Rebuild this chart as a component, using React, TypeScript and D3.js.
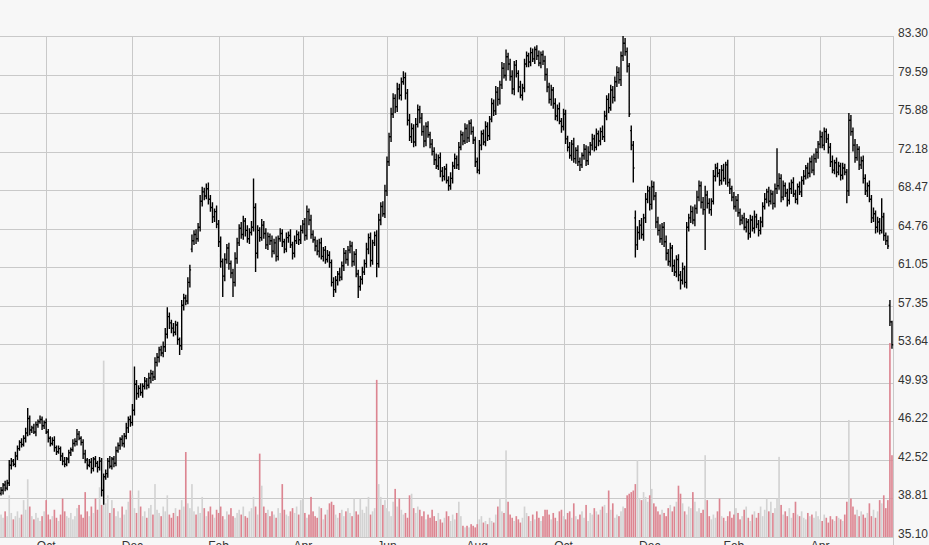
import { useMemo } from "react";
import * as d3 from "d3";

const W = 929;
const H = 545;
const plot = { left: 0, right: 893, top: 36, bottom: 537 };

// trading calendar
const firstDay = new Date(2014, 7, 29);
const holidays = [
  "2014-09-01", "2014-11-27", "2014-12-25", "2015-01-01", "2015-01-19", "2015-02-16",
  "2015-04-03", "2015-05-25", "2015-07-03", "2015-09-07", "2015-11-26", "2015-12-25",
  "2016-01-01", "2016-01-18", "2016-02-15", "2016-03-25",
];

// daily closes
const closes = [
  39.6, 40.1, 39.8, 40.3, 42.0, 42.4, 42.1, 42.9, 43.6, 44.2, 44.0, 44.6, 45.1,
  46.5, 45.4, 45.6, 45.2, 45.9, 46.2, 46.4, 45.8, 46.1,
  // Oct 2014
  45.2, 44.6, 44.1, 44.4, 43.7, 43.3, 43.6, 42.9, 42.4, 42.1, 42.6,
  43.2, 43.5, 44.1, 44.3, 45.0, 44.6, 44.2, 43.1,
  42.5, 42.0, 42.3, 41.7, 42.6, 42.2, 41.8, 42.4, 39.6, 40.9,
  41.2, 42.4, 41.9, 42.6, 42.2, 43.4, 43.9, 44.5, 44.1, 44.8,
  45.6, 46.4, 46.1, 47.3,
  // Dec 2014
  49.8, 48.9, 49.4, 49.0, 49.6, 50.1, 49.7, 50.4, 50.8, 50.5,
  51.9, 52.4, 53.1, 52.8, 53.4, 54.6, 56.3, 55.7, 55.2, 54.8, 55.5, 54.1, 53.5,
  57.4, 58.1, 57.8, 59.6, 60.8, 63.6, 64.2, 63.8, 64.9,
  67.4, 68.3, 67.9, 68.6, 67.6, 66.8, 65.9, 66.4, 65.2,
  63.5, 61.6, 60.2, 61.8, 62.9, 61.4, 60.5, 59.6, 61.9,
  63.4, 64.8, 64.2, 65.5, 64.6, 63.8, 64.4, 64.9, 66.8, 62.4,
  64.6, 63.9, 65.1, 64.3, 63.2, 64.0, 63.6,
  62.6, 63.4, 62.1, 63.8, 64.3, 63.5, 62.8, 63.9, 64.1, 63.2, 62.4, 63.6, 64.2, 63.7, 64.6,
  // Apr 2015
  65.2, 64.1, 66.4, 65.6,
  64.2, 63.7, 63.1, 62.6, 63.4, 62.1, 62.7, 61.8, 62.2, 61.5,
  59.6, 58.9, 59.8, 60.4, 60.1, 61.2, 62.4, 61.8, 62.7, 63.1, 61.6, 62.3,
  60.4, 59.2, 59.9, 60.6, 61.4, 62.8, 63.9, 61.7, 63.4, 64.1, 61.4,
  65.6, 66.9, 66.2, 68.4, 71.2, 73.6,
  // Jun 2015
  75.8, 77.3, 76.5, 78.2, 77.6, 78.9, 79.3, 77.8,
  75.2, 73.6, 74.4, 73.1, 74.8, 76.2, 75.4, 74.1, 73.2, 74.6, 73.8, 72.9,
  72.2, 71.4, 70.8, 71.6, 70.3, 69.8, 70.5, 69.4, 68.9,
  69.6, 70.8, 71.5, 70.9, 72.6, 73.8, 73.2, 74.4, 73.5, 74.9, 74.1, 73.3,
  71.2, 70.4, 72.8, 73.9, 73.1, 74.6, 73.7,
  75.3, 76.8, 76.1, 77.9, 77.2, 78.6, 80.2, 79.5, 81.3, 80.6,
  79.4, 78.2, 80.5, 79.7, 78.4, 77.6, 78.3,
  80.6, 81.4, 80.8, 81.7, 81.1, 82.0, 81.4, 80.7, 81.5, 80.9,
  79.6, 78.4, 77.2, 78.1, 76.8, 75.6, 76.3, 75.1, 74.6, 75.8,
  // Oct 2015
  73.4, 72.6, 71.8, 72.9, 71.5, 72.3, 71.2, 70.9, 71.8, 72.4, 71.3, 72.1,
  72.8, 73.4, 72.6, 73.9, 73.2, 74.1, 73.6,
  75.6, 77.2, 76.4, 78.1, 77.4, 78.9, 79.8, 79.1, 81.4, 82.6, 81.8,
  80.4, 75.8, 72.8, 70.6, 63.2,
  64.4, 65.1, 64.2, 65.8, 67.6, 68.4, 67.1, 68.8, 67.9,
  65.4, 64.6, 63.8, 64.9, 63.5,
  62.4, 61.6, 62.9, 61.2, 60.6, 61.8, 60.3, 59.8, 60.9, 59.6,
  64.9, 65.8, 66.4, 65.6, 66.7, 67.8, 68.9, 67.3, 66.6, 68.0,
  67.2, 66.6, 67.4, 69.8, 70.6, 70.1, 69.4,
  70.4, 69.6, 70.9, 69.2, 68.6, 67.8, 66.9, 67.5, 66.3, 65.6,
  // Feb 2016
  65.8, 64.9, 65.4, 64.3, 65.6, 64.8, 65.9, 65.2, 64.6, 65.4,
  66.9, 67.6, 68.3, 67.4, 68.1, 67.2, 68.6, 68.9,
  69.6, 67.8, 68.9, 68.2, 67.5, 68.6, 69.2, 68.1, 67.6, 68.8, 68.3, 69.4,
  69.8, 70.6, 70.1, 71.2, 70.4, 71.5,
  72.1, 72.9, 73.6, 72.8, 74.1, 73.4,
  72.6, 71.2, 70.4, 71.1, 70.2, 70.8, 69.9,
  70.6, 70.2, 68.4, 75.2, 74.1,
  72.8, 71.6, 72.4, 70.9, 71.3, 69.6, 68.4, 68.9, 67.6,
  65.8, 66.2, 64.9, 65.4, 64.6, 65.9, 64.1, 63.6, 63.1,
  55.8, 53.6,
];

// days that did not open at the previous close
const openGaps: [number, number][] = [
  [0, 39.3], [93, 62.8], [307, 74.2], [309, 65.8], [433, 57.4],
];

// high above the body / low below the body
const wickUp = [
  0.3, 0.2, 0.4, 0.3, 0.5, 0.3, 0.2, 0.4, 0.3, 0.2,
  0.4, 0.3, 0.5, 1.0, 0.3, 0.2, 0.4, 0.3, 0.2, 0.4,
  0.3, 0.2, 0.4, 0.3, 0.2, 0.3, 0.4, 0.2, 0.3, 0.2,
  0.3, 0.4, 0.2, 0.3, 0.2, 0.4, 0.3, 0.5, 0.3, 0.2,
  0.3, 0.4, 0.2, 0.3, 0.4, 0.2, 0.3, 0.2, 0.4, 0.3,
  0.3, 0.4, 0.3, 0.5, 0.2, 0.3, 0.4, 0.3, 0.2, 0.4,
  0.3, 0.5, 0.3, 0.4, 0.6, 1.7, 0.4, 0.3, 0.5, 0.3,
  0.4, 0.3, 0.5, 0.4, 0.3, 0.5, 0.4, 0.3, 0.4, 0.5,
  0.6, 0.9, 0.4, 0.3, 0.5, 0.4, 0.3, 0.2, 0.5, 0.4,
  0.3, 0.5, 0.5, 0.6, 0.4, 0.5, 0.4, 0.6, 0.5, 0.4,
  0.5, 0.6, 0.4, 0.5, 0.3, 0.6, 0.4, 0.5, 0.3, 0.6,
  0.4, 0.5, 0.3, 0.4, 0.6, 0.5, 0.4, 0.6, 0.5, 0.3,
  0.5, 0.4, 0.6, 2.8, 0.4, 0.5, 0.3, 0.6, 0.4, 0.5,
  0.4, 0.3, 0.5, 0.4, 0.6, 0.3, 0.5, 0.4, 0.3, 0.5,
  0.4, 0.6, 0.3, 0.5, 0.4, 0.3, 0.5, 0.4, 0.6, 0.6,
  0.3, 0.5, 0.4, 0.3, 0.6, 0.4, 0.5, 0.3, 0.4, 0.5,
  0.4, 0.3, 0.5, 0.4, 0.3, 0.6, 0.4, 0.5, 0.3, 0.4,
  0.5, 0.4, 0.3, 0.5, 0.4, 0.3, 0.5, 0.4, 0.6, 0.4,
  0.5, 0.3, 0.4, 0.5, 0.6, 0.4, 0.5, 0.6, 0.5, 0.4,
  0.6, 0.5, 0.4, 0.6, 0.5, 0.4, 0.6, 0.5, 0.4, 0.6,
  0.5, 0.4, 0.6, 0.5, 0.4, 0.5, 0.6, 0.4, 0.5, 0.3,
  0.5, 0.4, 0.6, 0.3, 0.5, 0.4, 0.3, 0.5, 0.4, 0.6,
  0.4, 0.5, 0.3, 0.5, 0.4, 0.3, 0.5, 0.4, 0.3, 0.4,
  0.5, 0.3, 0.4, 0.5, 0.3, 0.4, 0.5, 0.4, 0.3, 0.5,
  0.4, 0.6, 0.5, 0.4, 0.6, 0.5, 0.7, 0.4, 0.5, 0.6,
  0.4, 0.5, 0.3, 0.6, 0.4, 0.5, 0.4, 0.3, 0.5, 0.4,
  0.3, 0.4, 0.5, 0.3, 0.4, 0.5, 0.6, 0.4, 0.5, 0.3,
  0.5, 0.4, 0.6, 0.3, 0.5, 0.4, 0.3, 0.5, 0.4, 0.6,
  0.3, 0.5, 0.4, 0.3, 0.5, 0.4, 0.6, 0.3, 0.5, 0.4,
  0.5, 0.3, 0.4, 0.6, 0.5, 0.4, 0.6, 0.5, 0.4, 0.5,
  0.6, 0.5, 0.4, 0.7, 0.5, 0.4, 0.3, 0.5, 0.4, 0.7,
  0.6, 0.5, 0.7, 0.4, 0.6, 0.5, 0.4, 0.6, 0.5, 0.4,
  0.5, 0.6, 0.4, 0.5, 0.6, 0.4, 0.5, 0.3, 0.6, 0.4,
  0.5, 0.4, 0.6, 0.3, 0.5, 0.4, 0.6, 0.5, 0.4, 0.6,
  0.5, 0.4, 0.5, 0.9, 0.4, 0.5, 0.3, 0.6, 0.4, 0.5,
  0.4, 0.5, 0.6, 0.3, 0.5, 0.4, 0.3, 0.5, 0.4, 0.6,
  0.4, 0.3, 0.5, 0.4, 0.3, 0.5, 0.4, 0.6, 0.3, 0.4,
  0.5, 0.4, 0.6, 0.3, 0.5, 0.4, 0.3, 0.5, 3.6, 0.5,
  0.4, 0.5, 0.3, 0.4, 0.6, 0.3, 0.5, 0.4, 0.3, 0.5,
  0.4, 0.6, 0.3, 0.5, 0.4, 0.6, 0.5, 0.4, 0.3, 0.6,
  0.5, 0.4, 0.3, 0.5, 0.4, 0.6, 0.3, 0.5, 0.4, 0.3,
  0.5, 0.4, 0.3, 0.7, 0.5, 0.4, 0.6, 0.5, 0.3, 0.4,
  0.5, 0.4, 0.3, 0.5, 0.4, 0.6, 0.3, 0.5, 0.4, 1.8,
  0.4, 0.3, 0.5, 0.5, 0.1,
];

const wickDn = [
  0.2, 0.4, 0.3, 0.2, 0.3, 0.4, 0.2, 0.3, 0.4, 0.2,
  0.3, 0.2, 0.4, 0.3, 0.5, 0.3, 0.2, 0.4, 0.3, 0.2,
  0.4, 0.3, 0.2, 0.4, 0.3, 0.2, 0.4, 0.3, 0.2, 0.5,
  0.4, 0.3, 0.2, 0.4, 0.3, 0.2, 0.3, 0.4, 0.2, 0.3,
  0.5, 0.3, 0.4, 0.2, 0.5, 0.3, 0.4, 0.5, 0.3, 0.6,
  1.4, 0.3, 0.4, 0.2, 0.3, 0.4, 0.3, 0.2, 0.4, 0.3,
  0.4, 0.3, 0.5, 0.4, 0.3, 0.5, 0.6, 0.4, 0.3, 0.5,
  0.3, 0.4, 0.3, 0.5, 0.4, 0.3, 0.4, 0.5, 0.3, 0.4,
  0.5, 0.4, 0.6, 0.5, 0.4, 0.3, 0.5, 0.9, 0.4, 0.5,
  0.4, 0.3, 0.5, 0.3, 0.4, 0.5, 0.3, 0.4, 0.5, 0.4,
  0.3, 0.5, 0.4, 0.6, 0.5, 0.4, 0.5, 0.6, 2.0, 0.5,
  0.4, 0.6, 0.5, 1.4, 0.4, 0.5, 0.3, 0.4, 0.5, 0.6,
  0.4, 0.5, 0.3, 0.4, 1.8, 0.5, 0.4, 0.3, 0.5, 0.4,
  0.5, 0.4, 0.6, 0.3, 0.5, 0.4, 0.3, 0.5, 0.4, 0.3,
  0.5, 0.3, 0.6, 0.4, 0.3, 0.5, 0.4, 0.3, 0.5, 0.4,
  0.5, 0.4, 0.3, 0.5, 0.4, 0.6, 0.3, 0.5, 0.4, 0.3,
  0.5, 0.4, 0.7, 0.3, 0.5, 0.4, 0.3, 0.5, 0.4, 0.6,
  0.3, 0.5, 0.4, 0.3, 1.1, 0.4, 0.5, 0.3, 0.4, 0.5,
  0.6, 0.4, 0.3, 1.3, 0.4, 0.5, 0.3, 0.4, 0.5, 0.4,
  0.5, 0.4, 0.6, 0.5, 0.4, 0.5, 0.3, 0.6, 0.5, 0.4,
  0.6, 0.5, 0.4, 0.3, 0.5, 0.4, 0.6, 0.5, 0.3, 0.4,
  0.4, 0.5, 0.3, 0.4, 0.6, 0.5, 0.4, 0.3, 0.5, 0.4,
  0.5, 0.3, 0.4, 0.5, 0.3, 0.4, 0.3, 0.5, 0.4, 0.3,
  0.4, 0.5, 0.3, 0.4, 0.5, 0.3, 0.4, 0.5, 0.4, 0.3,
  0.5, 0.4, 0.6, 0.5, 0.4, 0.3, 0.5, 0.6, 0.4, 0.5,
  0.6, 0.4, 0.5, 0.3, 0.5, 0.4, 0.3, 0.5, 0.4, 0.3,
  0.5, 0.4, 0.3, 0.5, 0.4, 0.6, 0.5, 0.4, 0.6, 0.5,
  0.4, 0.5, 0.3, 0.6, 0.4, 0.5, 0.4, 0.3, 0.5, 0.4,
  0.5, 0.4, 0.6, 0.3, 0.4, 0.5, 0.4, 0.3, 0.5, 0.4,
  0.3, 0.5, 0.4, 0.3, 0.5, 0.4, 0.5, 0.3, 0.6, 0.4,
  0.5, 0.4, 0.6, 0.5, 0.4, 0.6, 0.3, 0.5, 1.4, 1.2,
  0.5, 0.7, 0.4, 0.6, 0.5, 0.4, 0.6, 0.5, 0.4, 0.6,
  0.5, 0.4, 0.6, 0.5, 0.7, 0.4, 0.5, 0.6, 0.4, 0.5,
  0.6, 0.9, 0.4, 0.5, 0.6, 0.4, 0.5, 0.4, 0.6, 0.5,
  0.4, 0.6, 0.5, 3.9, 0.5, 0.4, 0.6, 0.3, 0.5, 0.4,
  0.5, 0.4, 0.3, 0.6, 0.4, 0.5, 0.4, 0.3, 0.5, 0.4,
  0.5, 0.4, 0.3, 0.5, 0.6, 0.4, 0.3, 0.5, 0.4, 0.6,
  0.4, 0.5, 0.3, 0.4, 0.5, 0.3, 0.6, 0.4, 0.5, 0.4,
  0.5, 0.3, 0.4, 0.6, 0.4, 0.5, 0.3, 0.4, 0.5, 0.3,
  0.5, 0.4, 0.3, 0.5, 0.4, 0.3, 0.5, 0.4, 0.6, 0.4,
  0.3, 0.5, 0.4, 0.6, 0.5, 0.3, 0.4, 0.5, 0.3, 0.5,
  0.4, 0.3, 1.2, 0.5, 0.4, 0.6, 0.5, 0.3, 0.5, 0.4,
  0.5, 0.4, 0.6, 0.3, 0.5, 0.4, 0.6, 0.5, 0.4, 0.3,
  0.5, 0.4, 0.3, 0.4, 0.4,
];

// volume, millions
const volumes = [
  1.4, 1.2, 1.6, 1.3, 2.6, 1.5, 1.1, 1.3, 1.6, 1.2,
  1.4, 2.3, 1.7, 3.6, 1.9, 1.3, 1.1, 1.5, 1.2, 1.0,
  1.3, 1.6, 2.3, 1.4, 1.1, 1.3, 1.7, 1.2, 1.0, 1.4,
  2.4, 1.6, 1.3, 1.2, 1.5, 1.1, 1.3, 1.8, 2.0, 1.4,
  1.2, 2.8, 1.6, 1.3, 1.9, 1.5, 2.4, 1.7, 3.1, 2.0,
  11.0, 2.1, 2.6, 1.5, 2.3, 1.8, 1.3, 1.6, 1.2, 1.9,
  1.4, 1.7, 2.2, 2.9, 2.6, 1.8, 1.5, 2.9, 1.9, 1.3,
  1.6, 1.2, 1.8, 2.0, 1.4, 3.3, 1.7, 1.5, 1.3, 1.9,
  1.6, 2.6, 1.4, 1.2, 1.5, 1.8, 1.3, 1.7, 2.3, 1.9,
  5.3, 2.1, 1.8, 3.3, 1.6, 1.4, 1.9, 1.5, 2.5, 1.8,
  1.3, 1.6, 1.9, 1.4, 1.2, 1.7, 1.5, 1.9, 1.3, 1.1,
  1.6, 1.4, 1.8, 1.3, 1.2, 1.5, 1.7, 1.4, 1.9, 1.3,
  1.2, 1.6, 1.8, 2.5, 1.9, 1.4, 5.2, 3.2, 1.9, 1.5,
  1.7, 1.3, 1.6, 1.4, 1.2, 1.8, 1.5, 3.3, 1.7, 1.4,
  1.3, 1.6, 1.8, 1.5, 1.9, 1.4, 2.3, 2.4, 1.5, 1.2,
  1.4, 2.5, 1.6, 1.3, 1.2, 1.9, 1.8, 1.1, 1.4, 1.7,
  2.1, 2.2, 2.0, 1.4, 1.2, 1.5, 1.7, 1.3, 1.6, 1.8,
  1.5, 1.3, 2.4, 1.6, 1.4, 2.4, 1.7, 1.5, 1.9, 2.5,
  1.4, 1.6, 1.8, 9.8, 3.3, 2.5, 2.0, 2.3, 1.8, 1.6,
  1.3, 2.2, 3.0, 1.9, 2.4, 1.7, 1.4, 1.5, 1.2, 2.6,
  2.7, 1.8, 1.5, 1.9, 1.7, 1.3, 1.6, 1.1, 1.4, 1.2,
  1.7, 1.3, 1.0, 1.5, 1.1, 0.9, 1.2, 1.6, 1.3, 1.0,
  1.4, 1.1, 1.5, 2.2, 1.3, 0.7, 0.6, 0.7, 0.6, 0.8,
  0.7, 0.6, 0.8, 1.1, 1.3, 0.9, 1.0, 0.8, 1.2, 1.0,
  0.9, 1.4, 1.9, 2.4, 1.6, 1.5, 5.4, 2.2, 1.4, 1.2,
  1.0, 1.3, 1.1, 0.9, 1.2, 1.9, 1.5, 1.3, 1.0, 1.4,
  1.1, 1.6, 1.2, 1.0, 1.3, 1.7, 1.7, 1.4, 1.1, 1.5,
  1.2, 1.0, 1.6, 1.7, 1.3, 1.1, 1.5, 1.6, 1.2, 2.1,
  1.3, 1.1, 1.4, 1.6, 1.2, 2.0, 1.0, 1.5, 1.4, 1.8,
  1.6, 1.4, 1.7, 1.9, 2.0, 1.5, 2.9, 1.7, 2.1, 1.2,
  1.4, 1.3, 1.6, 1.9, 1.8, 2.6, 2.7, 2.8, 2.9, 3.3,
  4.8, 2.4, 2.3, 2.8, 2.5, 2.2, 2.6, 3.0, 2.1, 1.9,
  1.6, 1.4, 1.7, 1.5, 1.3, 1.8, 2.0, 1.6, 1.9, 2.2,
  3.2, 2.7, 2.1, 1.6, 1.4, 1.9, 1.8, 2.8, 2.2, 1.6,
  1.8, 1.5, 1.7, 5.1, 2.3, 1.3, 1.1, 1.4, 1.2, 1.6,
  2.4, 1.3, 1.2, 1.0, 1.3, 1.6, 1.2, 1.4, 1.8, 1.5,
  1.1, 1.3, 1.7, 1.9, 1.2, 1.0, 1.4, 1.6, 1.2, 1.5,
  1.9, 1.3, 1.7, 2.4, 1.6, 2.2, 1.5, 1.8, 2.4, 5.0,
  2.0, 1.4, 1.6, 1.3, 1.8, 1.2, 1.5, 2.2, 1.4, 1.3,
  1.6, 1.2, 1.1, 1.5, 1.3, 1.4, 1.2, 1.6, 1.3, 1.1,
  1.0, 1.4, 1.2, 0.9, 1.3, 1.1, 1.0, 1.3, 1.2, 1.1,
  1.0, 1.4, 2.2, 7.3, 2.4, 1.9, 1.4, 1.7, 1.3, 1.6,
  1.4, 1.2, 1.5, 2.1, 1.3, 1.7, 1.2, 1.6, 2.3, 2.1,
  2.6, 1.8, 2.3, 12.1, 5.1,
];

const priceTicks = [35.10, 38.81, 42.52, 46.22, 49.93, 53.64, 57.35, 61.05, 64.76, 68.47, 72.18, 75.88, 79.59, 83.30];

function tradingDays(n: number): Date[] {
  const fmt = d3.timeFormat("%Y-%m-%d");
  const skip = new Set(holidays);
  const out: Date[] = [];
  const d = new Date(firstDay);
  while (out.length < n) {
    const wd = d.getDay();
    if (wd !== 0 && wd !== 6 && !skip.has(fmt(d))) out.push(new Date(d));
    d.setDate(d.getDate() + 1);
  }
  return out;
}

export default function App() {
  const n = closes.length;
  const dates = useMemo(() => tradingDays(n), [n]);

  const bars = useMemo(() => closes.map((c, i) => {
    const gap = openGaps.find((g) => g[0] === i);
    const open = gap ? gap[1] : closes[i - 1];
    return {
      i,
      open,
      close: c,
      high: Math.max(open, c) + wickUp[i],
      low: Math.min(open, c) - wickDn[i],
      vol: volumes[i],
      down: c < open,
    };
  }), []);

  const x = useMemo(() => d3.scaleBand<number>().domain(d3.range(n)).range([plot.left, plot.right]), [n]);
  const bw = x.bandwidth();
  const cx = (i: number) => (x(i) ?? 0) + bw / 2;

  const y = d3.scaleLinear().domain([35.10, 83.30]).range([plot.bottom, plot.top]);
  const vY = d3.scaleLinear().domain([0, d3.max(volumes) ?? 1]).range([plot.bottom, plot.bottom - 194]);

  // first trading day of every second month
  const monthTicks = useMemo(() => {
    const fmt = d3.timeFormat("%b");
    const out: { i: number; label: string }[] = [];
    for (let i = 1; i < dates.length; i++) {
      const m = dates[i].getMonth();
      if (m !== dates[i - 1].getMonth() && m % 2 === 1) out.push({ i, label: fmt(dates[i]) });
    }
    return out;
  }, [dates]);

  const pricePath = useMemo(() => {
    let p = "";
    bars.forEach((b) => {
      const px = cx(b.i);
      p += `M${px},${y(b.high)}V${y(b.low)}`;
      p += `M${px - 1.2},${y(b.open)}H${px}`;
      p += `M${px},${y(b.close)}H${px + 1.2}`;
    });
    return p;
  }, [bars]);

  const snap = (v: number) => Math.round(v) + 0.5;
  const gridColor = "#c9c9c9";

  return (
    <svg width={W} height={H} viewBox={`0 0 ${W} ${H}`}
      style={{ position: "absolute", left: 0, top: 0, display: "block" }}
      fontFamily="'Liberation Sans', Arial, sans-serif" fontSize={12}>
      <rect x={0} y={0} width={W} height={H} fill="#f7f7f7" />

      {/* grid */}
      <g stroke={gridColor} strokeWidth={1} shapeRendering="crispEdges">
        {priceTicks.map((v) => (
          <line key={`gy-${v}`} x1={plot.left} x2={plot.right} y1={snap(y(v))} y2={snap(y(v))} />
        ))}
        {monthTicks.map((t) => (
          <line key={`gx-${t.i}`} x1={snap(cx(t.i))} x2={snap(cx(t.i))} y1={plot.top} y2={plot.bottom} />
        ))}
        <line x1={plot.right + 0.5} x2={plot.right + 0.5} y1={plot.top} y2={plot.bottom + 8} />
      </g>

      {/* volume */}
      <g>
        {bars.map((b) => (
          <rect key={`v-${b.i}`} x={(x(b.i) ?? 0) + bw * 0.1} width={bw * 0.8}
            y={vY(b.vol)} height={plot.bottom - vY(b.vol)}
            fill={b.down ? "#dc8591" : "#d3d3d3"} />
        ))}
      </g>

      {/* price bars */}
      <path d={pricePath} fill="none" stroke="#000" strokeWidth={1.4} />

      {/* right axis labels */}
      <g fill="#333">
        {priceTicks.map((v) => (
          <text key={`yl-${v}`} x={plot.right + 5} y={snap(y(v)) + 0.5}>{v.toFixed(2)}</text>
        ))}
      </g>

      {/* month labels */}
      <g fill="#333" textAnchor="middle">
        {monthTicks.map((t) => (
          <text key={`xl-${t.i}`} x={cx(t.i)} y={plot.bottom + 13}>{t.label}</text>
        ))}
      </g>
    </svg>
  );
}
